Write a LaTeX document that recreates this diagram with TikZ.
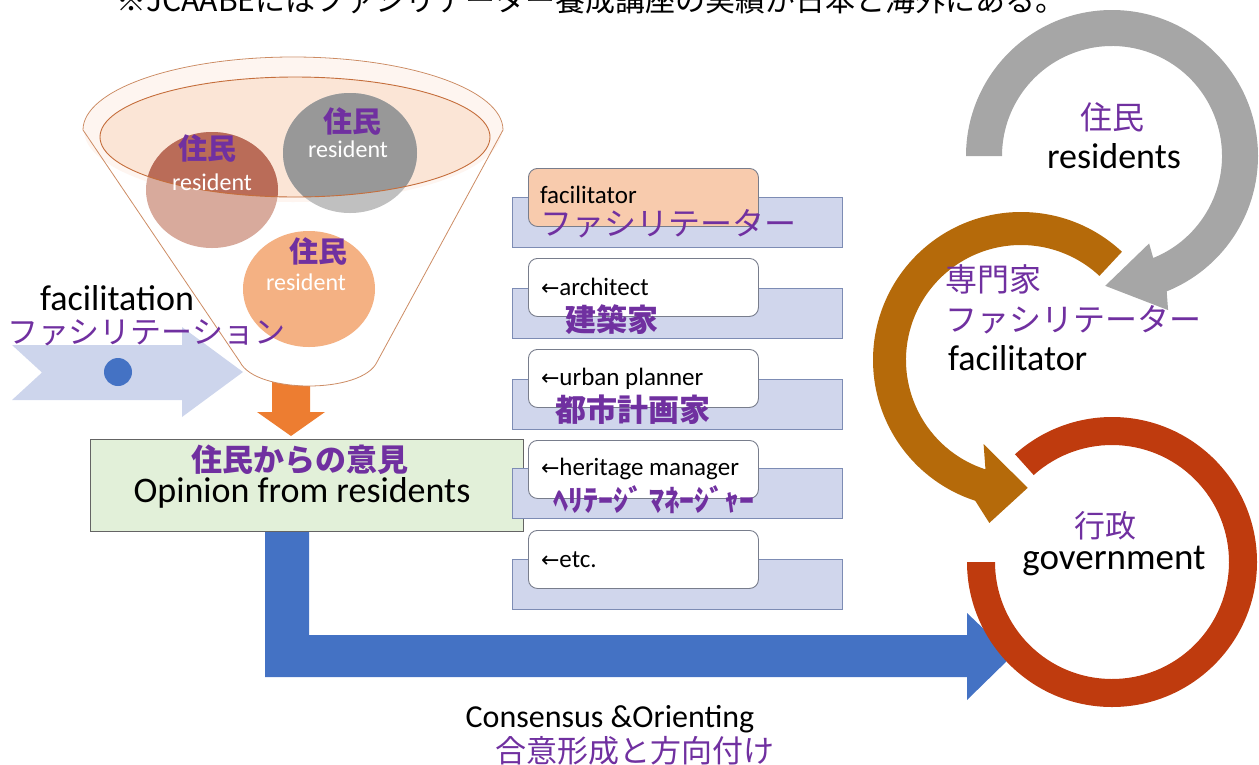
\documentclass[tikz,border=0pt]{standalone}
\usepackage{fontspec}
\setmainfont{Carlito}
\newfontfamily\jp{Noto Sans CJK JP}
\newfontfamily\sym{DejaVu Sans}
\newcommand\myfs[1]{\fontsize{#1}{#1}\selectfont}
\definecolor{jpurple}{RGB}{112,48,160}
\definecolor{chevfill}{RGB}{205,213,236}
\definecolor{orarrow}{RGB}{237,125,49}
\definecolor{funnelline}{RGB}{205,140,100}
\definecolor{capfill}{RGB}{254,245,240}
\definecolor{innerfill}{RGB}{251,229,214}
\definecolor{innerline}{RGB}{197,110,60}
\definecolor{brownlt}{RGB}{216,170,156}
\definecolor{browndk}{RGB}{186,108,88}
\definecolor{graylt}{RGB}{192,192,192}
\definecolor{graydk}{RGB}{152,152,152}
\definecolor{orangec}{RGB}{244,177,131}
\definecolor{blueC}{RGB}{68,114,196}
\definecolor{greenfill}{RGB}{226,240,217}
\definecolor{greenline}{RGB}{100,100,100}
\definecolor{backfill}{RGB}{208,214,236}
\definecolor{backline}{RGB}{125,140,180}
\definecolor{frontline}{RGB}{120,125,140}
\definecolor{facfill}{RGB}{248,203,173}
\definecolor{arrgray}{RGB}{166,166,166}
\definecolor{arrbrown}{RGB}{181,106,10}
\definecolor{arrred}{RGB}{191,59,14}
\tikzset{
  txt/.style={inner sep=0pt, outer sep=0pt},
  backbox/.style={rectangle, anchor=north west, fill=backfill, draw=backline, line width=1pt, minimum width=330pt, minimum height=50pt, inner sep=0pt},
  frontbox/.style={rectangle, anchor=north west, rounded corners=9pt, fill=white, draw=frontline, line width=0.9pt, minimum width=230pt, minimum height=58pt, inner sep=0pt},
  rowtxt/.style={txt, anchor=base west},
  rowjp/.style={txt, anchor=west, text=jpurple},
}
\begin{document}
\begin{tikzpicture}[x=1pt,y=-1pt]
\useasboundingbox (0,0) rectangle (1259,764);
\clip (0,0) rectangle (1259,764);

% top note (cut at the top edge)
\node[txt, anchor=base] (note) at (591,11) {\jp\myfs{30}※JCAABEにはファシリテーター養成講座の実績が日本と海外にある。};

% chevron arrow
\fill[chevfill] (12,345) -- (182,345) -- (182,327) -- (243,372) -- (182,417) -- (182,400) -- (12,400) -- (42,372.5) -- cycle;

% orange down arrow
\fill[orarrow] (272,380) -- (310,380) -- (310,412) -- (325,412) -- (291,436) -- (257,412) -- (272,412) -- cycle;

% funnel
\fill[white] (83,130) -- (240,362) .. controls (256,394) and (362,394) .. (377,362) -- (503,130) arc[start angle=0, end angle=-180, x radius=210, y radius=73] -- cycle;
\fill[capfill] (293,130) ellipse [x radius=209, y radius=72];
\draw[funnelline, line width=0.8pt] (83,130) -- (240,362) .. controls (256,394) and (362,394) .. (377,362) -- (503,130) arc[start angle=0, end angle=-180, x radius=210, y radius=73] -- cycle;
\fill[innerfill] (295,137) ellipse [x radius=195, y radius=60];

% resident circles
\fill[brownlt] (212,190) ellipse [x radius=66, y radius=58];
\fill[graylt] (350,153) ellipse [x radius=67, y radius=60];
\fill[orangec] (309,289) ellipse [x radius=66, y radius=58];
\begin{scope}
  \clip (295,137) ellipse [x radius=195, y radius=60];
  \fill[browndk] (212,190) ellipse [x radius=66, y radius=58];
  \fill[graydk] (350,153) ellipse [x radius=67, y radius=60];
\end{scope}
\draw[innerline, line width=0.9pt] (295,137) ellipse [x radius=195, y radius=60];

\node[txt, text=jpurple] (r1j) at (207,148) {\jp\bfseries\myfs{29}住民};
\node[txt, text=white, anchor=base] (r1e) at (212,190) {\myfs{24}resident};
\node[txt, text=jpurple] (r2j) at (352,121) {\jp\bfseries\myfs{29}住民};
\node[txt, text=white, anchor=base] (r2e) at (348,157) {\myfs{24}resident};
\node[txt, text=jpurple] (r3j) at (318,251) {\jp\bfseries\myfs{29}住民};
\node[txt, text=white, anchor=base] (r3e) at (306,290) {\myfs{24}resident};

% facilitation labels
\node[txt, anchor=base west] (facil) at (40,310) {\myfs{36}facilitation};
\node[txt, anchor=west, text=jpurple] (facilJ) at (7,333) {\jp\myfs{31}ファシリテーション};
\node[circle, fill=blueC, minimum size=28pt, inner sep=0pt] (dot) at (118,372) {};

% blue L arrow
\fill[blueC] (265,525) -- (309,525) -- (309,635) -- (967,635) -- (967,613) -- (1012,656) -- (967,700) -- (967,677) -- (265,677) -- cycle;

% opinion box
\node[rectangle, anchor=north west, fill=greenfill, draw=greenline, line width=0.9pt, minimum width=433pt, minimum height=92pt, inner sep=0pt] (green) at (90,439) {};
\node[txt, text=jpurple] (opJ) at (300,460) {\jp\bfseries\myfs{31}住民からの意見};
\node[txt, anchor=base] (opE) at (302,502) {\myfs{36}Opinion from residents};

% middle column
\node[backbox] (b1) at (512,197) {};
\node[frontbox, fill=facfill] (f1) at (528,168) {};
\node[rowtxt] (t1) at (540,203) {\myfs{25}facilitator};
\node[rowjp] (j1) at (540,224) {\jp\myfs{32}ファシリテーター};

\node[backbox] (b2) at (512,288) {};
\node[frontbox] (f2) at (528,258) {};
\node[rowtxt] (t2) at (541,295) {{\sym\myfs{22}←}\myfs{25}architect};
\node[rowjp] (j2) at (565,320) {\jp\bfseries\myfs{31}建築家};

\node[backbox] (b3) at (512,379) {};
\node[frontbox] (f3) at (528,349) {};
\node[rowtxt] (t3) at (541,385) {{\sym\myfs{22}←}\myfs{25}urban planner};
\node[rowjp] (j3) at (555,410) {\jp\bfseries\myfs{31}都市計画家};

\node[backbox] (b4) at (512,468) {};
\node[frontbox] (f4) at (528,440) {};
\node[rowtxt] (t4) at (541,475) {{\sym\myfs{22}←}\myfs{25}heritage manager};
\node[rowjp] (j4) at (553,500) {\jp\bfseries\myfs{30}ﾍﾘﾃｰｼﾞ ﾏﾈｰｼﾞｬｰ};

\node[backbox] (b5) at (512,559) {};
\node[frontbox] (f5) at (528,530) {};
\node[rowtxt] (t5) at (541,567) {{\sym\myfs{22}←}\myfs{25}etc.};

% right: circular arrows
\coordinate (G) at (1112,156);
\coordinate (B) at (1021,360);
\coordinate (R) at (1112,562);
\fill[arrgray] ([shift={(180:146)}]G) arc[start angle=180, end angle=428, radius=146]
  -- ([shift={(430:164)}]G) -- ([shift={(453:130)}]G) -- ([shift={(427:95)}]G)
  -- ([shift={(428:110)}]G) arc[start angle=428, end angle=180, radius=110] -- cycle;
\fill[arrbrown] ([shift={(-47:148)}]B) arc[start angle=-47, end angle=-252, radius=148]
  -- ([shift={(-259:166)}]B) -- ([shift={(-273:128)}]B) -- ([shift={(-246:92)}]B)
  -- ([shift={(-252:115)}]B) arc[start angle=-252, end angle=-47, radius=115] -- cycle;
\fill[arrred] ([shift={(180:145)}]R) arc[start angle=180, end angle=-132, radius=145]
  -- ([shift={(-132:117)}]R) arc[start angle=-132, end angle=180, radius=117] -- cycle;

\node[txt, text=jpurple] (resJ) at (1112,117) {\jp\myfs{32}住民};
\node[txt, anchor=base] (resE) at (1114,168) {\myfs{36}residents};
\node[txt, anchor=west, text=jpurple] (expJ) at (945,279) {\jp\myfs{32}専門家};
\node[txt, anchor=west, text=jpurple] (facJ2) at (945,320) {\jp\myfs{32}ファシリテーター};
\node[txt, anchor=base west] (facE2) at (948,370) {\myfs{36}facilitator};
\node[txt, text=jpurple] (govJ) at (1105,526) {\jp\myfs{31}行政};
\node[txt, anchor=base] (govE) at (1114,569) {\myfs{37}government};

% bottom labels
\node[txt, anchor=base] (cons) at (610,727) {\myfs{32}Consensus \&Orienting};
\node[txt, text=jpurple] (consJ) at (635,751) {\jp\myfs{31}合意形成と方向付け};
\end{tikzpicture}
\end{document}
